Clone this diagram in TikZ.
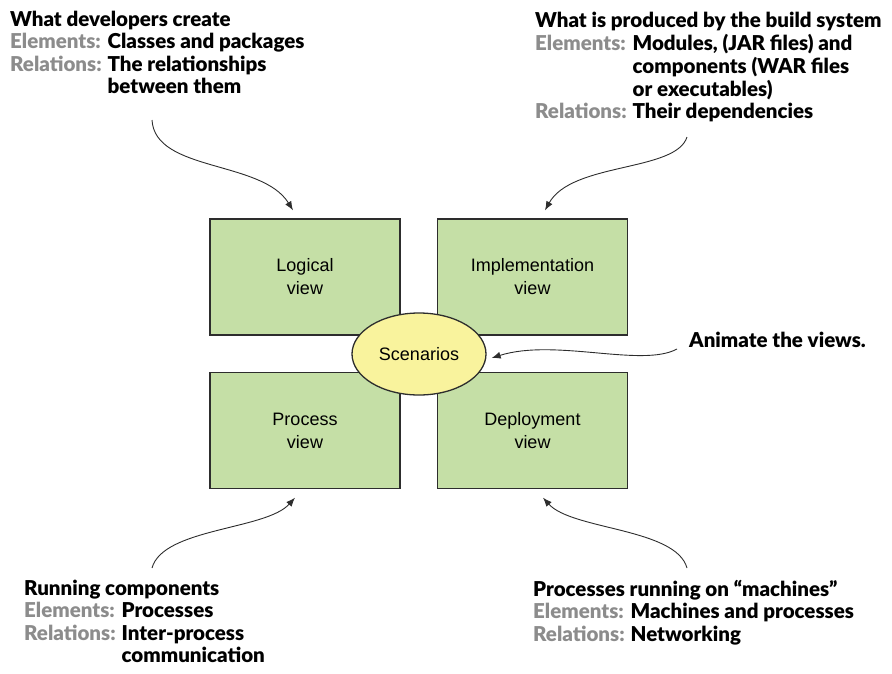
\documentclass[tikz,border=0pt]{standalone}
\usepackage{fontspec}
\setmainfont{Liberation Sans}
\newfontfamily\labfont{Lato Black}
\usetikzlibrary{arrows.meta,shapes.geometric}
\definecolor{boxgreen}{RGB}{197,223,166}
\definecolor{scenyellow}{RGB}{249,243,157}
\definecolor{labgray}{RGB}{140,140,140}
\definecolor{linegray}{RGB}{45,45,45}
\newcommand{\lbl}[1]{\textcolor{labgray}{#1}}
\begin{document}
\begin{tikzpicture}[x=1pt,y=-1pt,
  viewbox/.style={draw=linegray, line width=1.3pt, fill=boxgreen, minimum width=190pt, minimum height=116pt, inner sep=0pt, align=center, font=\fontsize{18}{23}\selectfont},
  scen/.style={ellipse, draw=linegray, line width=1.3pt, fill=scenyellow, minimum width=134pt, minimum height=82pt, inner sep=0pt, font=\fontsize{18}{23}\selectfont},
  note/.style={anchor=base west, inner sep=0pt, font=\labfont\fontsize{20.5}{22.5}\selectfont},
  callout/.style={draw=linegray, line width=0.9pt, -{Latex[length=9pt,width=7pt]}},
]
\useasboundingbox (0,0) rectangle (892,673);

% view boxes
\node[viewbox] (logical) at (305,277) {Logical\\view};
\node[viewbox] (impl) at (532.5,277) {Implementation\\view};
\node[viewbox] (process) at (305,430.5) {Process\\view};
\node[viewbox] (deploy) at (532.5,430.5) {Deployment\\view};
\node[scen] (scen) at (419,354) {Scenarios};

% notes
\node[note] (tl) at (10,26) {\begin{tabular}[t]{@{}l@{\hspace{6pt}}l@{}}
\multicolumn{2}{@{}l@{}}{What developers create}\\
\lbl{Elements:} & Classes and packages\\
\lbl{Relations:} & The relationships\\
 & between them
\end{tabular}};

\node[note] (tr) at (535,27) {\begin{tabular}[t]{@{}l@{\hspace{6pt}}l@{}}
\multicolumn{2}{@{}l@{}}{What is produced by the build system}\\
\lbl{Elements:} & Modules, (JAR files) and\\
 & components (WAR files\\
 & or executables)\\
\lbl{Relations:} & Their dependencies
\end{tabular}};

\node[note] (bl) at (24,595) {\begin{tabular}[t]{@{}l@{\hspace{6pt}}l@{}}
\multicolumn{2}{@{}l@{}}{Running components}\\
\lbl{Elements:} & Processes\\
\lbl{Relations:} & Inter-process\\
 & communication
\end{tabular}};

\node[note] (br) at (533,596) {\begin{tabular}[t]{@{}l@{\hspace{6pt}}l@{}}
\multicolumn{2}{@{}l@{}}{Processes running on “machines”}\\
\lbl{Elements:} & Machines and processes\\
\lbl{Relations:} & Networking
\end{tabular}};

\node[note] (anim) at (689,347) {Animate the views.};

% connector ends
\coordinate (sTL) at (152,120);
\coordinate (sTR) at (687,137);
\coordinate (sAN) at (677,349);
\coordinate (sBL) at (152,568);
\coordinate (sBR) at (687,568);
\coordinate (tLog) at ([xshift=-12pt,yshift=8pt]logical.north);
\coordinate (tImp) at ([xshift=12.5pt,yshift=8pt]impl.north);
\coordinate (tPro) at ([xshift=-10pt,yshift=-8.5pt]process.south);
\coordinate (tDep) at ([xshift=10.5pt,yshift=-8.5pt]deploy.south);
\coordinate (tSce) at ([xshift=5pt,yshift=-4pt]scen.east);

% connectors
\draw[callout] (sTL) .. controls (155,172) and (262,160) .. (tLog);
\draw[callout] (sTR) .. controls (676,172) and (572,162) .. (tImp);
\draw[callout] (sAN) .. controls (642,368) and (555,338) .. (tSce);
\draw[callout] (sBL) .. controls (163,528) and (266,530) .. (tPro);
\draw[callout] (sBR) .. controls (676,528) and (572,530) .. (tDep);
\end{tikzpicture}
\end{document}
